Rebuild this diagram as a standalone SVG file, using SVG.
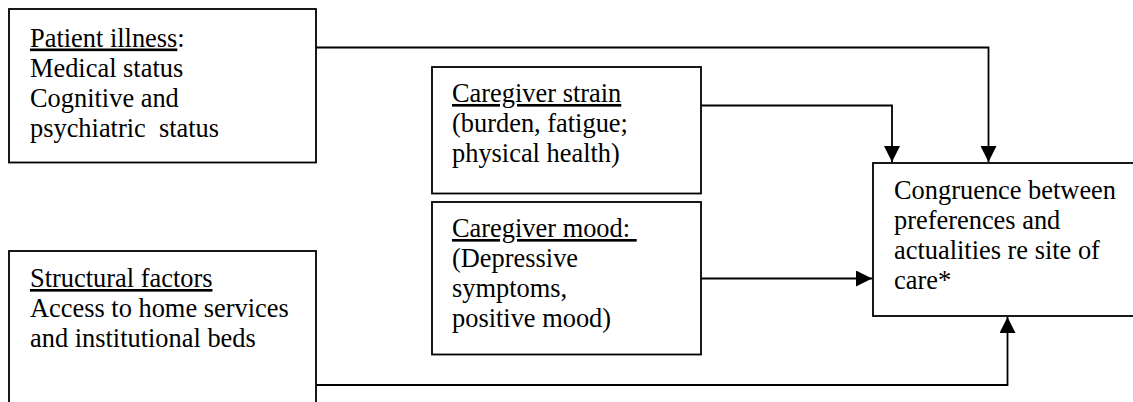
<svg xmlns="http://www.w3.org/2000/svg" width="1133" height="402" viewBox="0 0 1133 402">
<style>
.box{fill:#fff;stroke:#000;stroke-width:1.8}
.t{font-family:"Liberation Serif","Times New Roman",serif;font-size:26.4px;fill:#000}
.u{text-decoration:underline}
.c{fill:none;stroke:#000;stroke-width:1.8}
</style>
<defs>
<marker id="ah" viewBox="0 0 16 16" refX="16" refY="8" markerWidth="16" markerHeight="16" markerUnits="userSpaceOnUse" orient="auto">
<path d="M0,0 L16,8 L0,16 Z" fill="#000"/>
</marker>
</defs>
<g id="connectors">
<path class="c" d="M316,47.5 H988.5 V162" marker-end="url(#ah)"/>
<path class="c" d="M701,105.5 H892 V162" marker-end="url(#ah)"/>
<path class="c" d="M701,278.5 H872" marker-end="url(#ah)"/>
<path class="c" d="M316,385 H1007.5 V317" marker-end="url(#ah)"/>
</g>
<g id="patient">
<rect class="box" x="9" y="9" width="307" height="153.5"/>
<text class="t" x="30" y="46.5"><tspan class="u">Patient illness</tspan>:</text>
<text class="t" x="30" y="76.5">Medical status</text>
<text class="t" x="30" y="106.5">Cognitive and</text>
<text class="t" x="30" y="136.5">psychiatric&#160; status</text>
</g>
<g id="strain">
<rect class="box" x="432" y="67" width="269" height="126.5"/>
<text class="t" x="452" y="102"><tspan class="u">Caregiver strain</tspan></text>
<text class="t" x="452" y="132">(burden, fatigue;</text>
<text class="t" x="452" y="162">physical health)</text>
</g>
<g id="mood">
<rect class="box" x="432" y="202" width="269" height="152.5"/>
<text class="t" x="452" y="237"><tspan class="u">Caregiver mood:&#160;</tspan></text>
<text class="t" x="452" y="267">(Depressive</text>
<text class="t" x="452" y="297">symptoms,</text>
<text class="t" x="452" y="327">positive mood)</text>
</g>
<g id="structural">
<rect class="box" x="9" y="251" width="307" height="170"/>
<text class="t" x="30" y="287"><tspan class="u">Structural factors</tspan></text>
<text class="t" x="30" y="317">Access to home services</text>
<text class="t" x="30" y="347">and institutional beds</text>
</g>
<g id="congruence">
<rect class="box" x="873" y="163" width="280" height="153"/>
<text class="t" x="894" y="198.5">Congruence between</text>
<text class="t" x="894" y="228.5">preferences and</text>
<text class="t" x="894" y="258.5">actualities re site of</text>
<text class="t" x="894" y="288.5">care*</text>
</g>
</svg>
